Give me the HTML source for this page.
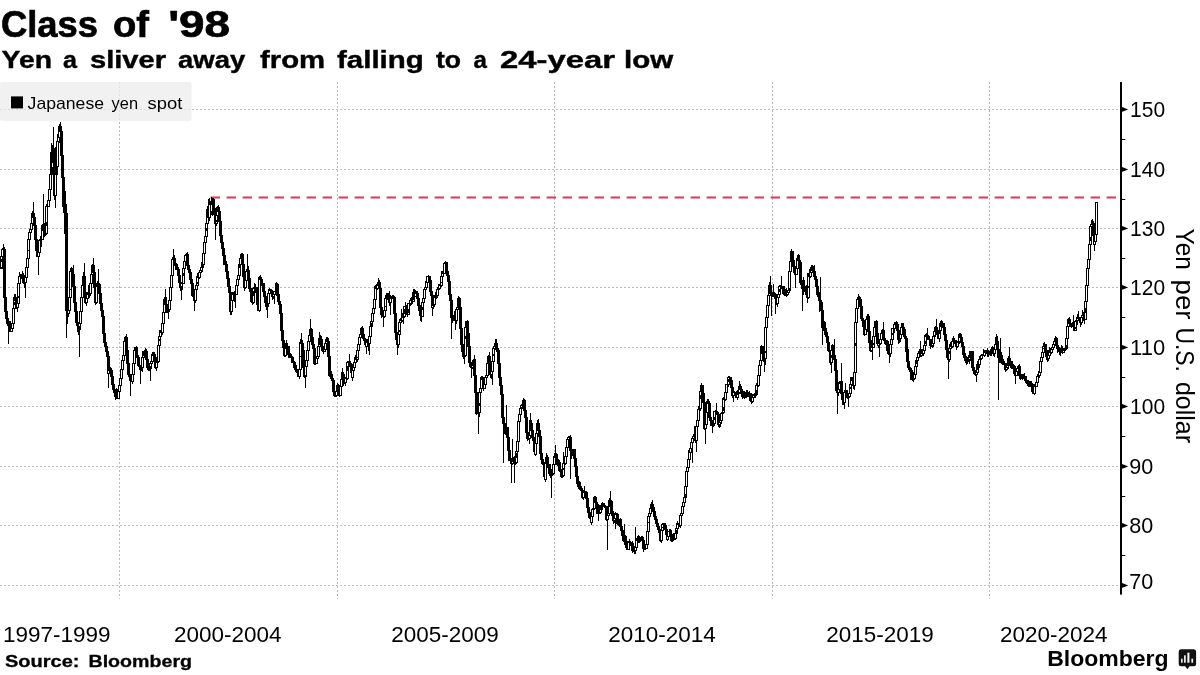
<!DOCTYPE html>
<html><head><meta charset="utf-8"><title>Class of '98</title>
<style>
html,body{margin:0;padding:0;background:#fff;}
body{width:1200px;height:675px;overflow:hidden;}
svg{display:block;font-family:"Liberation Sans",sans-serif;will-change:transform;}
text{fill:#000;}
</style></head><body>
<svg width="1200" height="675" viewBox="0 0 1200 675">
<text x="1" y="37.4" font-size="37.5" font-weight="bold" text-anchor="start" textLength="97" lengthAdjust="spacingAndGlyphs" stroke="#000" stroke-width="0.7">Class</text><text x="113" y="37.4" font-size="37.5" font-weight="bold" text-anchor="start" textLength="36" lengthAdjust="spacingAndGlyphs" stroke="#000" stroke-width="0.7">of</text><text x="168.2" y="37.4" font-size="37.5" font-weight="bold" text-anchor="start" textLength="61.8" lengthAdjust="spacingAndGlyphs" stroke="#000" stroke-width="0.7">&#39;98</text>
<text x="1.6" y="68" font-size="24.5" font-weight="bold" text-anchor="start" textLength="50.4" lengthAdjust="spacingAndGlyphs" stroke="#000" stroke-width="0.4">Yen</text><text x="63" y="68" font-size="24.5" font-weight="bold" text-anchor="start" textLength="14" lengthAdjust="spacingAndGlyphs" stroke="#000" stroke-width="0.4">a</text><text x="90" y="68" font-size="24.5" font-weight="bold" text-anchor="start" textLength="76" lengthAdjust="spacingAndGlyphs" stroke="#000" stroke-width="0.4">sliver</text><text x="178" y="68" font-size="24.5" font-weight="bold" text-anchor="start" textLength="67.2" lengthAdjust="spacingAndGlyphs" stroke="#000" stroke-width="0.4">away</text><text x="260" y="68" font-size="24.5" font-weight="bold" text-anchor="start" textLength="65.2" lengthAdjust="spacingAndGlyphs" stroke="#000" stroke-width="0.4">from</text><text x="337" y="68" font-size="24.5" font-weight="bold" text-anchor="start" textLength="86.8" lengthAdjust="spacingAndGlyphs" stroke="#000" stroke-width="0.4">falling</text><text x="436" y="68" font-size="24.5" font-weight="bold" text-anchor="start" textLength="25" lengthAdjust="spacingAndGlyphs" stroke="#000" stroke-width="0.4">to</text><text x="473.6" y="68" font-size="24.5" font-weight="bold" text-anchor="start" textLength="13.4" lengthAdjust="spacingAndGlyphs" stroke="#000" stroke-width="0.4">a</text><text x="500" y="68" font-size="24.5" font-weight="bold" text-anchor="start" textLength="115" lengthAdjust="spacingAndGlyphs" stroke="#000" stroke-width="0.4">24-year</text><text x="624" y="68" font-size="24.5" font-weight="bold" text-anchor="start" textLength="49.2" lengthAdjust="spacingAndGlyphs" stroke="#000" stroke-width="0.4">low</text>
<g stroke="#bababa" stroke-width="1" stroke-dasharray="2 2" fill="none" shape-rendering="crispEdges"><line x1="0" x2="1120" y1="585.5" y2="585.5"/><line x1="0" x2="1120" y1="525.5" y2="525.5"/><line x1="0" x2="1120" y1="466.5" y2="466.5"/><line x1="0" x2="1120" y1="406.5" y2="406.5"/><line x1="0" x2="1120" y1="347.5" y2="347.5"/><line x1="0" x2="1120" y1="287.5" y2="287.5"/><line x1="0" x2="1120" y1="228.5" y2="228.5"/><line x1="0" x2="1120" y1="169.5" y2="169.5"/><line x1="0" x2="1120" y1="109.5" y2="109.5"/><line x1="119.5" x2="119.5" y1="82" y2="598.5"/><line x1="337.5" x2="337.5" y1="82" y2="598.5"/><line x1="554.5" x2="554.5" y1="82" y2="598.5"/><line x1="772.5" x2="772.5" y1="82" y2="598.5"/><line x1="989.5" x2="989.5" y1="82" y2="598.5"/></g>
<rect x="0" y="82" width="191.6" height="39" fill="#ebebeb" fill-opacity="0.72" rx="2"/>
<rect x="11" y="96.4" width="12" height="12" fill="#000"/>
<text x="27.6" y="109" font-size="16.6" font-weight="normal" text-anchor="start" textLength="76.4" lengthAdjust="spacingAndGlyphs">Japanese</text><text x="111.6" y="109" font-size="16.6" font-weight="normal" text-anchor="start" textLength="26.4" lengthAdjust="spacingAndGlyphs">yen</text><text x="147.6" y="109" font-size="16.6" font-weight="normal" text-anchor="start" textLength="34.8" lengthAdjust="spacingAndGlyphs">spot</text>
<line x1="210.6" x2="1120" y1="197.5" y2="197.5" stroke="#cf3f5a" stroke-width="2" stroke-dasharray="9.4 6.6"/>
<path d="M1.5,257V259M1.5,262V267M2.5,250V256M11.5,329V331M12.5,324V328M13.5,309V323M14.5,301V302M14.5,305V308M17.5,304V307M18.5,284V296M18.5,298V303M19.5,277V283M25.5,278V282M26.5,268V277M27.5,259V267M28.5,240V250M28.5,251V258M29.5,233V239M30.5,230V232M31.5,224V229M32.5,218V223M38.5,253V256M39.5,241V252M42.5,231V239M46.5,207V222M46.5,226V233M48.5,201V206M49.5,190V200M50.5,175V189M52.5,163V167M55.5,175V195M57.5,142V166M58.5,138V141M59.5,132V137M68.5,311V313M69.5,298V310M70.5,272V289M70.5,290V297M79.5,324V326M80.5,312V323M81.5,298V311M82.5,286V297M86.5,299V302M87.5,295V298M90.5,284V293M91.5,275V283M92.5,273V274M96.5,287V302M108.5,371V373M118.5,392V398M119.5,386V391M120.5,379V385M121.5,370V378M122.5,361V369M123.5,356V360M124.5,342V355M132.5,375V381M133.5,364V374M134.5,351V363M142.5,358V367M143.5,356V357M150.5,364V366M151.5,362V363M152.5,356V361M156.5,363V367M158.5,346V361M159.5,337V339M159.5,341V345M160.5,333V336M162.5,324V332M163.5,313V323M164.5,305V312M169.5,301V309M170.5,288V300M171.5,276V287M172.5,260V275M181.5,284V286M183.5,269V273M183.5,276V283M184.5,262V268M185.5,256V261M195.5,290V300M196.5,286V289M197.5,278V282M197.5,284V285M199.5,273V277M200.5,271V272M201.5,268V270M203.5,254V264M204.5,243V253M205.5,237V242M206.5,224V228M206.5,231V236M207.5,218V223M209.5,205V217M211.5,205V211M216.5,216V220M216.5,222V223M217.5,212V215M231.5,301V311M232.5,295V300M236.5,286V294M237.5,280V285M238.5,276V279M239.5,268V275M240.5,259V264M245.5,281V287M246.5,272V280M253.5,289V291M253.5,296V302M259.5,280V310M268.5,294V303M269.5,291V293M273.5,295V296M274.5,292V294M285.5,349V355M299.5,370V376M300.5,344V356M300.5,357V369M305.5,367V375M306.5,361V366M307.5,351V360M308.5,342V350M309.5,336V341M316.5,359V363M317.5,357V358M318.5,347V356M319.5,345V346M324.5,350V351M325.5,344V349M326.5,342V343M336.5,392V395M340.5,387V395M341.5,380V386M345.5,379V382M347.5,363V366M347.5,371V378M352.5,371V377M353.5,368V370M354.5,363V367M355.5,360V362M357.5,351V357M357.5,358V359M358.5,345V350M359.5,338V344M360.5,335V337M366.5,343V346M369.5,337V343M370.5,327V336M371.5,322V323M372.5,314V321M373.5,309V313M374.5,300V308M375.5,289V299M377.5,286V288M384.5,311V316M385.5,299V306M385.5,307V310M390.5,299V302M398.5,335V344M399.5,323V330M399.5,332V334M400.5,321V322M402.5,318V320M404.5,307V309M404.5,314V316M408.5,304V309M408.5,313V314M410.5,301V303M413.5,300V301M415.5,294V296M422.5,303V307M422.5,310V316M423.5,299V302M424.5,290V298M425.5,288V289M426.5,283V287M427.5,277V282M432.5,306V307M434.5,298V304M437.5,290V295M439.5,286V288M441.5,277V282M441.5,283V285M442.5,274V276M444.5,264V273M456.5,310V320M457.5,308V309M465.5,328V336M465.5,339V355M472.5,366V367M479.5,393V403M479.5,406V412M480.5,389V392M481.5,380V388M484.5,385V388M485.5,378V384M486.5,376V377M487.5,364V375M491.5,372V374M492.5,362V371M493.5,349V354M493.5,356V361M494.5,347V348M512.5,462V463M516.5,452V453M516.5,458V462M517.5,442V451M518.5,422V441M519.5,415V421M520.5,409V414M521.5,406V407M529.5,436V438M530.5,431V435M535.5,444V454M536.5,434V443M537.5,431V433M545.5,464V479M553.5,465V473M554.5,458V464M563.5,464V468M563.5,470V475M565.5,457V463M566.5,448V456M567.5,440V447M568.5,438V439M583.5,493V497M591.5,517V522M592.5,510V516M594.5,503V508M600.5,510V512M607.5,516V519M608.5,514V515M609.5,507V513M614.5,519V520M615.5,515V518M628.5,543V549M635.5,548V550M636.5,541V547M646.5,545V548M647.5,532V544M648.5,517V522M648.5,523V531M649.5,514V516M650.5,509V513M661.5,531V540M662.5,525V527M662.5,528V530M667.5,537V539M668.5,532V536M675.5,534V538M676.5,529V530M677.5,525V528M680.5,516V525M681.5,514V515M682.5,507V513M683.5,503V506M684.5,498V502M685.5,487V494M686.5,472V486M687.5,468V471M688.5,460V467M689.5,453V459M690.5,449V452M691.5,443V448M692.5,439V442M693.5,437V438M696.5,427V440M697.5,421V426M698.5,410V420M700.5,392V395M700.5,399V408M705.5,425V428M706.5,413V424M707.5,404V412M714.5,412V417M714.5,420V423M719.5,423V424M720.5,421V422M721.5,414V420M723.5,400V407M723.5,411V412M725.5,393V399M726.5,385V392M728.5,378V379M728.5,382V384M733.5,393V395M737.5,395V397M739.5,390V392M752.5,398V401M753.5,396V397M756.5,386V390M758.5,376V385M759.5,366V375M760.5,361V365M761.5,354V360M765.5,328V351M765.5,353V358M766.5,318V327M767.5,306V317M768.5,296V305M769.5,294V295M777.5,298V303M778.5,295V297M779.5,287V289M779.5,292V294M787.5,293V294M788.5,291V292M789.5,272V288M790.5,262V271M796.5,269V274M797.5,261V268M808.5,277V286M808.5,288V297M810.5,273V276M811.5,271V272M831.5,351V355M831.5,358V362M838.5,390V392M839.5,384V389M844.5,393V402M849.5,394V396M850.5,385V387M850.5,389V393M851.5,381V384M854.5,373V385M855.5,323V343M855.5,346V372M856.5,309V322M857.5,300V308M865.5,330V334M866.5,320V329M871.5,348V350M873.5,337V343M873.5,345V347M874.5,328V336M878.5,344V345M880.5,340V343M881.5,334V339M890.5,345V353M891.5,340V344M892.5,329V333M892.5,335V339M894.5,325V328M900.5,335V338M901.5,328V334M914.5,375V378M915.5,367V374M916.5,364V366M917.5,358V360M918.5,354V357M921.5,354V355M923.5,351V353M924.5,346V350M925.5,337V341M925.5,344V345M932.5,344V345M933.5,337V343M934.5,332V335M939.5,334V338M940.5,327V330M949.5,349V351M949.5,354V359M950.5,347V348M952.5,342V346M957.5,343V346M959.5,338V341M969.5,358V359M976.5,373V374M977.5,370V372M979.5,360V364M981.5,356V358M984.5,353V355M994.5,350V353M995.5,345V349M1006.5,368V369M1007.5,366V367M1016.5,372V375M1017.5,369V371M1034.5,387V393M1036.5,383V386M1037.5,377V382M1039.5,373V375M1040.5,362V372M1041.5,358V361M1042.5,353V357M1043.5,347V348M1043.5,349V352M1048.5,356V358M1049.5,353V355M1051.5,350V352M1052.5,348V349M1053.5,345V347M1054.5,342V344M1063.5,351V352M1066.5,339V345M1067.5,327V338M1068.5,324V326M1075.5,322V327M1075.5,329V330M1077.5,319V320M1081.5,318V322M1082.5,316V317M1085.5,302V308M1085.5,313V319M1086.5,286V301M1087.5,269V285M1088.5,260V268M1089.5,245V259M1090.5,227V237M1090.5,241V244M1091.5,225V226M1094.5,242V244M1095.5,235V241M1096.5,203V234" fill="none" stroke="#fff" stroke-width="1" shape-rendering="crispEdges"/>
<path d="M0.5,256V269M1.5,249V257M1.5,259V262M1.5,267V269M2.5,248V250M2.5,256V269M3.5,244V298M4.5,247V312M5.5,249V319M6.5,297V324M7.5,311V326M8.5,318V344M9.5,321V332M10.5,321V332M11.5,323V329M11.5,331V332M12.5,308V324M12.5,328V332M13.5,297V309M13.5,323V329M14.5,294V301M14.5,302V305M14.5,308V324M15.5,294V309M16.5,297V309M17.5,283V304M17.5,307V312M18.5,276V284M18.5,296V298M18.5,303V308M19.5,272V277M19.5,283V304M20.5,274V284M21.5,274V279M22.5,271V283M23.5,273V284M24.5,275V288M25.5,267V278M25.5,282V298M26.5,258V268M26.5,277V283M27.5,239V259M27.5,267V278M28.5,232V240M28.5,250V251M28.5,258V268M29.5,229V233M29.5,239V259M30.5,223V230M30.5,232V240M31.5,213V224M31.5,229V233M32.5,211V218M32.5,223V230M33.5,202V226M34.5,213V240M35.5,217V251M36.5,225V257M37.5,239V257M38.5,240V253M38.5,256V275M39.5,239V241M39.5,252V257M40.5,236V253M41.5,225V247M42.5,224V231M42.5,239V240M43.5,194V240M44.5,223V237M45.5,206V236M46.5,204V207M46.5,222V226M46.5,233V235M47.5,200V234M48.5,189V201M48.5,206V207M49.5,174V190M49.5,200V207M50.5,152V175M50.5,189V201M51.5,143V190M52.5,145V163M52.5,167V175M53.5,127V196M54.5,148V200M55.5,147V175M55.5,195V208M56.5,141V196M57.5,134V142M57.5,166V175M58.5,126V138M58.5,141V167M59.5,124V132M59.5,137V143M60.5,122V156M61.5,126V178M62.5,131V207M63.5,155V213M64.5,177V234M65.5,191V311M66.5,204V338M67.5,213V324M68.5,297V311M68.5,313V317M69.5,271V298M69.5,310V314M70.5,268V272M70.5,289V290M70.5,297V311M71.5,267V298M72.5,268V287M73.5,265V303M74.5,274V312M75.5,286V323M76.5,302V326M77.5,311V332M78.5,322V335M79.5,311V324M79.5,326V357M80.5,297V312M80.5,323V330M81.5,285V298M81.5,311V324M82.5,276V286M82.5,297V312M83.5,272V298M84.5,263V303M85.5,276V304M86.5,292V299M86.5,302V306M87.5,292V295M87.5,298V303M88.5,285V299M89.5,283V298M90.5,274V284M90.5,293V296M91.5,265V275M91.5,283V294M92.5,264V273M92.5,274V284M93.5,258V288M94.5,265V303M95.5,272V305M96.5,283V287M96.5,302V304M97.5,281V303M98.5,269V294M99.5,283V304M100.5,284V311M101.5,293V317M102.5,303V334M103.5,310V343M104.5,316V347M105.5,333V352M106.5,342V357M107.5,346V374M108.5,351V371M108.5,373V388M109.5,356V374M110.5,367V377M111.5,368V385M112.5,370V390M113.5,376V393M114.5,384V397M115.5,389V400M116.5,388V399M117.5,389V399M118.5,385V392M118.5,398V399M119.5,378V386M119.5,391V399M120.5,369V379M120.5,385V392M121.5,360V370M121.5,378V386M122.5,355V361M122.5,369V379M123.5,341V356M123.5,360V370M124.5,337V342M124.5,355V361M125.5,336V356M126.5,334V364M127.5,337V375M128.5,350V377M129.5,363V381M130.5,374V396M131.5,374V382M132.5,363V375M132.5,381V384M133.5,350V364M133.5,374V382M134.5,347V351M134.5,363V375M135.5,347V364M136.5,346V358M137.5,347V366M138.5,355V367M139.5,357V370M140.5,365V384M141.5,357V371M142.5,351V358M142.5,367V372M143.5,351V356M143.5,357V368M144.5,350V358M145.5,348V360M146.5,349V368M147.5,351V370M148.5,359V371M149.5,363V371M150.5,361V364M150.5,366V381M151.5,354V362M151.5,363V369M152.5,352V356M152.5,361V364M153.5,352V362M154.5,352V368M155.5,354V369M156.5,357V363M156.5,367V371M157.5,345V368M158.5,336V346M158.5,361V363M159.5,330V337M159.5,339V341M159.5,345V362M160.5,330V333M160.5,336V346M161.5,323V337M162.5,312V324M162.5,332V335M163.5,299V313M163.5,323V333M164.5,297V305M164.5,312V324M165.5,289V313M166.5,297V313M167.5,304V313M168.5,300V319M169.5,287V301M169.5,309V312M170.5,275V288M170.5,300V310M171.5,259V276M171.5,287V301M172.5,257V260M172.5,275V288M173.5,249V276M174.5,255V266M175.5,258V270M176.5,263V270M177.5,264V276M178.5,267V283M179.5,269V288M180.5,275V291M181.5,282V284M181.5,286V300M182.5,268V290M183.5,261V269M183.5,273V276M183.5,283V284M184.5,255V262M184.5,268V284M185.5,254V256M185.5,261V269M186.5,253V266M187.5,252V270M188.5,254V273M189.5,265V280M190.5,269V284M191.5,272V296M192.5,279V297M193.5,283V301M194.5,289V311M195.5,285V290M195.5,300V303M196.5,276V286M196.5,289V301M197.5,273V278M197.5,282V284M197.5,285V290M198.5,272V286M199.5,270V273M199.5,277V279M200.5,267V271M200.5,272V278M201.5,262V268M201.5,270V273M202.5,253V272M203.5,242V254M203.5,264V268M204.5,236V243M204.5,253V265M205.5,223V237M205.5,242V254M206.5,209V224M206.5,228V231M206.5,236V243M207.5,206V218M207.5,223V237M208.5,199V224M209.5,198V205M209.5,217V221M210.5,201V218M211.5,197V205M211.5,211V215M212.5,198V216M213.5,198V215M214.5,199V224M215.5,208V240M216.5,207V216M216.5,220V222M216.5,223V226M217.5,206V212M217.5,215V224M218.5,205V222M219.5,207V236M220.5,211V243M221.5,221V249M222.5,235V256M223.5,242V265M224.5,248V265M225.5,255V272M226.5,261V279M227.5,264V287M228.5,271V293M229.5,278V312M230.5,286V315M231.5,292V301M231.5,311V315M232.5,292V295M232.5,300V312M233.5,292V301M234.5,291V302M235.5,285V308M236.5,279V286M236.5,294V295M237.5,275V280M237.5,285V295M238.5,264V276M238.5,279V286M239.5,258V268M239.5,275V280M240.5,254V259M240.5,264V276M241.5,253V265M242.5,253V277M243.5,254V288M244.5,264V291M245.5,271V281M245.5,287V289M246.5,269V272M246.5,280V288M247.5,254V281M248.5,266V289M249.5,270V292M250.5,278V302M251.5,288V303M252.5,288V305M253.5,287V289M253.5,291V296M253.5,302V304M254.5,283V303M255.5,284V293M256.5,287V305M257.5,287V311M258.5,277V311M259.5,276V280M259.5,310V312M260.5,275V311M261.5,277V286M262.5,279V292M263.5,283V297M264.5,283V303M265.5,291V307M266.5,296V310M267.5,293V318M268.5,289V294M268.5,303V307M269.5,288V291M269.5,293V304M270.5,289V294M271.5,289V297M272.5,290V300M273.5,291V295M273.5,296V299M274.5,291V292M274.5,294V304M275.5,283V295M276.5,282V296M277.5,283V302M278.5,284V305M279.5,294V314M280.5,301V331M281.5,304V341M282.5,313V348M283.5,330V356M284.5,340V357M285.5,343V349M285.5,355V357M286.5,340V356M287.5,343V355M288.5,346V358M289.5,346V358M290.5,353V358M291.5,354V363M292.5,356V363M293.5,357V368M294.5,361V370M295.5,362V372M296.5,365V373M297.5,369V377M298.5,369V377M299.5,342V370M299.5,376V379M300.5,339V344M300.5,356V357M300.5,369V377M301.5,333V370M302.5,340V368M303.5,343V377M304.5,350V378M305.5,360V367M305.5,375V388M306.5,350V361M306.5,366V377M307.5,341V351M307.5,360V367M308.5,335V342M308.5,350V361M309.5,329V336M309.5,341V351M310.5,319V342M311.5,328V345M312.5,329V349M313.5,337V364M314.5,344V365M315.5,348V365M316.5,356V359M316.5,363V364M317.5,346V357M317.5,358V364M318.5,338V347M318.5,356V359M319.5,332V345M319.5,346V357M320.5,335V347M321.5,336V351M322.5,339V352M323.5,346V354M324.5,343V350M324.5,351V352M325.5,339V344M325.5,349V352M326.5,337V342M326.5,343V350M327.5,337V357M328.5,338V376M329.5,341V377M330.5,356V379M331.5,371V381M332.5,374V392M333.5,378V396M334.5,380V397M335.5,391V397M336.5,385V392M336.5,395V397M337.5,383V396M338.5,384V396M339.5,385V397M340.5,379V387M340.5,395V396M341.5,372V380M341.5,386V396M342.5,368V387M343.5,372V386M344.5,374V384M345.5,377V379M345.5,382V386M346.5,362V383M347.5,361V363M347.5,366V371M347.5,378V380M348.5,361V379M349.5,354V367M350.5,361V373M351.5,363V378M352.5,364V371M352.5,377V381M353.5,362V368M353.5,370V378M354.5,357V363M354.5,367V371M355.5,355V360M355.5,362V368M356.5,350V363M357.5,344V351M357.5,357V358M357.5,359V362M358.5,337V345M358.5,350V360M359.5,334V338M359.5,344V351M360.5,328V335M360.5,337V345M361.5,327V338M362.5,326V339M363.5,328V341M364.5,334V345M365.5,338V347M366.5,339V343M366.5,346V354M367.5,339V347M368.5,336V351M369.5,326V337M369.5,343V355M370.5,321V327M370.5,336V344M371.5,313V322M371.5,323V337M372.5,308V314M372.5,321V327M373.5,299V309M373.5,313V322M374.5,286V300M374.5,308V314M375.5,285V289M375.5,299V309M376.5,284V300M377.5,282V286M377.5,288V290M378.5,278V289M379.5,280V308M380.5,282V315M381.5,288V318M382.5,307V317M383.5,310V327M384.5,298V311M384.5,316V318M385.5,295V299M385.5,306V307M385.5,310V317M386.5,293V311M387.5,293V300M388.5,293V303M389.5,291V306M390.5,295V299M390.5,302V315M391.5,296V303M392.5,295V299M393.5,295V314M394.5,296V333M395.5,297V340M396.5,313V345M397.5,332V355M398.5,322V335M398.5,344V348M399.5,319V323M399.5,330V332M399.5,334V345M400.5,318V321M400.5,322V335M401.5,309V323M402.5,313V318M402.5,320V322M403.5,306V324M404.5,306V307M404.5,309V314M404.5,316V318M405.5,302V317M406.5,305V315M407.5,303V317M408.5,303V304M408.5,309V313M408.5,314V315M409.5,300V315M410.5,298V301M410.5,303V306M411.5,297V305M412.5,292V304M413.5,289V300M413.5,301V302M414.5,289V302M415.5,290V294M415.5,296V297M416.5,291V299M417.5,291V306M418.5,293V311M419.5,298V316M420.5,305V321M421.5,302V322M422.5,298V303M422.5,307V310M422.5,316V317M423.5,289V299M423.5,302V317M424.5,287V290M424.5,298V303M425.5,281V288M425.5,289V299M426.5,276V283M426.5,287V290M427.5,276V277M427.5,282V288M428.5,275V283M429.5,276V292M430.5,276V296M431.5,280V308M432.5,291V306M432.5,307V316M433.5,295V309M434.5,295V298M434.5,304V307M435.5,292V305M436.5,289V299M437.5,287V290M437.5,295V298M438.5,284V296M439.5,284V286M439.5,288V290M440.5,276V289M441.5,271V277M441.5,282V283M441.5,285V287M442.5,271V274M442.5,276V286M443.5,263V277M444.5,262V264M444.5,273V274M445.5,261V274M446.5,262V276M447.5,262V282M448.5,271V295M449.5,275V301M450.5,281V318M451.5,294V339M452.5,300V323M453.5,315V321M454.5,311V321M455.5,309V330M456.5,307V310M456.5,320V324M457.5,298V308M457.5,309V321M458.5,296V310M459.5,297V329M460.5,298V345M461.5,307V352M462.5,328V357M463.5,344V359M464.5,327V364M465.5,321V328M465.5,336V339M465.5,355V357M466.5,321V356M467.5,320V347M468.5,321V363M469.5,333V367M470.5,346V368M471.5,362V378M472.5,360V366M472.5,367V369M473.5,359V376M474.5,355V393M475.5,359V414M476.5,375V415M477.5,392V414M478.5,392V434M479.5,388V393M479.5,403V406M479.5,412V417M480.5,377V389M480.5,392V413M481.5,376V380M481.5,388V393M482.5,376V389M483.5,377V391M484.5,377V385M484.5,388V389M485.5,375V378M485.5,384V389M486.5,363V376M486.5,377V385M487.5,356V364M487.5,375V378M488.5,355V376M489.5,352V375M490.5,356V378M491.5,361V372M491.5,374V379M492.5,348V362M492.5,371V385M493.5,346V349M493.5,354V356M493.5,361V372M494.5,343V347M494.5,348V362M495.5,339V350M496.5,339V352M497.5,343V364M498.5,348V378M499.5,350V386M500.5,363V395M501.5,377V418M502.5,385V424M503.5,394V463M504.5,417V434M505.5,423V435M506.5,405V438M507.5,427V451M508.5,427V461M509.5,437V461M510.5,450V464M511.5,458V483M512.5,439V462M512.5,463V465M513.5,457V464M514.5,456V483M515.5,451V465M516.5,441V452M516.5,453V458M516.5,462V464M517.5,421V442M517.5,451V463M518.5,414V422M518.5,441V452M519.5,408V415M519.5,421V442M520.5,405V409M520.5,414V422M521.5,404V406M521.5,407V415M522.5,400V409M523.5,398V411M524.5,399V418M525.5,400V433M526.5,410V439M527.5,417V441M528.5,432V440M529.5,420V436M529.5,438V444M530.5,413V431M530.5,435V439M531.5,420V438M532.5,423V441M533.5,430V452M534.5,437V455M535.5,433V444M535.5,454V456M536.5,423V434M536.5,443V455M537.5,420V431M537.5,433V444M538.5,419V437M539.5,423V454M540.5,430V460M541.5,436V464M542.5,453V465M543.5,459V477M544.5,462V480M545.5,457V464M545.5,479V482M546.5,453V480M547.5,455V468M548.5,457V474M549.5,464V476M550.5,464V478M551.5,469V498M552.5,464V476M553.5,456V465M553.5,473V475M554.5,453V458M554.5,464V474M555.5,445V465M556.5,453V465M557.5,454V466M558.5,459V471M559.5,460V472M560.5,462V477M561.5,469V478M562.5,463V478M563.5,452V464M563.5,468V470M563.5,475V477M564.5,456V476M565.5,447V457M565.5,463V465M566.5,439V448M566.5,456V464M567.5,437V440M567.5,447V457M568.5,436V438M568.5,439V448M569.5,436V451M570.5,435V479M571.5,437V459M572.5,449V456M573.5,449V459M574.5,449V467M575.5,449V477M576.5,458V484M577.5,466V487M578.5,476V489M579.5,481V490M580.5,482V491M581.5,486V498M582.5,488V499M583.5,490V493M583.5,497V500M584.5,486V498M585.5,491V499M586.5,491V508M587.5,492V513M588.5,498V518M589.5,507V519M590.5,512V523M591.5,509V517M591.5,522V525M592.5,508V510M592.5,516V523M593.5,497V517M594.5,496V503M594.5,508V510M595.5,496V509M596.5,497V514M597.5,502V514M598.5,504V521M599.5,505V514M600.5,505V510M600.5,512V514M601.5,503V513M602.5,502V510M603.5,503V507M604.5,503V508M605.5,505V520M606.5,506V521M607.5,506V516M607.5,519V550M608.5,500V514M608.5,515V520M609.5,498V507M609.5,513V516M610.5,491V514M611.5,500V516M612.5,501V521M613.5,511V524M614.5,513V519M614.5,520V523M615.5,512V515M615.5,518V529M616.5,513V524M617.5,513V525M618.5,514V526M619.5,519V527M620.5,518V531M621.5,519V536M622.5,526V541M623.5,530V542M624.5,524V545M625.5,535V548M626.5,536V550M627.5,541V550M628.5,541V543M628.5,549V550M629.5,539V550M630.5,541V546M631.5,542V551M632.5,541V553M633.5,543V552M634.5,546V554M635.5,527V548M635.5,550V554M636.5,538V541M636.5,547V551M637.5,536V548M638.5,535V543M639.5,536V543M640.5,537V542M641.5,536V541M642.5,536V549M643.5,537V552M644.5,540V550M645.5,544V550M646.5,531V545M646.5,548V549M647.5,516V532M647.5,544V549M648.5,513V517M648.5,522V523M648.5,531V545M649.5,508V514M649.5,516V532M650.5,504V509M650.5,513V517M651.5,502V514M652.5,500V512M653.5,504V517M654.5,507V520M655.5,511V524M656.5,516V527M657.5,519V530M658.5,523V533M659.5,526V541M660.5,529V542M661.5,524V531M661.5,540V543M662.5,523V525M662.5,527V528M662.5,530V541M663.5,523V531M664.5,523V530M665.5,523V535M666.5,525V540M667.5,529V537M667.5,539V541M668.5,531V532M668.5,536V540M669.5,529V537M670.5,529V541M671.5,530V542M672.5,534V542M673.5,533V541M674.5,533V540M675.5,528V534M675.5,538V540M676.5,523V529M676.5,530V539M677.5,521V525M677.5,528V534M678.5,523V529M679.5,515V527M680.5,513V516M680.5,525V528M681.5,506V514M681.5,515V526M682.5,502V507M682.5,513V516M683.5,497V503M683.5,506V514M684.5,486V498M684.5,502V507M685.5,471V487M685.5,494V503M686.5,467V472M686.5,486V498M687.5,459V468M687.5,471V487M688.5,450V460M688.5,467V472M689.5,448V453M689.5,459V468M690.5,442V449M690.5,452V460M691.5,438V443M691.5,448V453M692.5,436V439M692.5,442V463M693.5,434V437M693.5,438V443M694.5,426V441M695.5,426V443M696.5,420V427M696.5,440V452M697.5,409V421M697.5,426V441M698.5,406V410M698.5,420V427M699.5,391V421M700.5,385V392M700.5,395V399M700.5,408V411M701.5,383V409M702.5,385V403M703.5,385V429M704.5,393V430M705.5,402V425M705.5,428V444M706.5,401V413M706.5,424V429M707.5,399V404M707.5,412V425M708.5,399V418M709.5,401V421M710.5,403V426M711.5,417V426M712.5,420V433M713.5,411V427M714.5,411V412M714.5,417V420M714.5,423V426M715.5,410V424M716.5,403V415M717.5,411V425M718.5,412V427M719.5,414V423M719.5,424V428M720.5,413V421M720.5,422V427M721.5,412V414M721.5,420V424M722.5,398V421M723.5,397V400M723.5,407V411M723.5,412V414M724.5,392V413M725.5,384V393M725.5,399V401M726.5,384V385M726.5,392V400M727.5,377V393M728.5,376V378M728.5,379V382M728.5,384V387M729.5,376V385M730.5,377V388M731.5,377V396M732.5,380V398M733.5,387V393M733.5,395V402M734.5,391V396M735.5,392V398M736.5,391V398M737.5,390V395M737.5,397V400M738.5,386V398M739.5,381V390M739.5,392V394M740.5,384V394M741.5,386V397M742.5,389V399M743.5,391V398M744.5,391V399M745.5,392V398M746.5,390V398M747.5,390V397M748.5,392V397M749.5,391V401M750.5,393V402M751.5,393V404M752.5,394V398M752.5,401V403M753.5,394V396M753.5,397V402M754.5,393V398M755.5,385V398M756.5,383V386M756.5,390V396M757.5,375V395M758.5,365V376M758.5,385V387M759.5,360V366M759.5,375V386M760.5,346V361M760.5,365V376M761.5,345V354M761.5,360V366M762.5,346V361M763.5,346V362M764.5,327V372M765.5,317V328M765.5,351V353M765.5,358V365M766.5,305V318M766.5,327V359M767.5,295V306M767.5,317V328M768.5,285V296M768.5,305V318M769.5,282V294M769.5,295V306M770.5,276V296M771.5,285V316M772.5,292V297M773.5,284V297M774.5,292V299M775.5,293V314M776.5,294V305M777.5,294V298M777.5,303V307M778.5,286V295M778.5,297V304M779.5,285V287M779.5,289V292M779.5,294V298M780.5,285V295M781.5,276V289M782.5,286V294M783.5,286V295M784.5,286V296M785.5,289V296M786.5,288V297M787.5,290V293M787.5,294V296M788.5,271V291M788.5,292V295M789.5,261V272M789.5,288V293M790.5,251V262M790.5,271V291M791.5,249V272M792.5,251V267M793.5,251V273M794.5,260V275M795.5,266V288M796.5,258V269M796.5,274V275M797.5,255V261M797.5,268V275M798.5,254V269M799.5,255V283M800.5,260V285M801.5,262V289M802.5,280V311M803.5,277V295M804.5,280V292M805.5,286V295M806.5,285V298M807.5,273V303M808.5,273V277M808.5,286V288M808.5,297V299M809.5,269V298M810.5,267V273M810.5,276V278M811.5,265V271M811.5,272V277M812.5,265V273M813.5,266V277M814.5,265V280M815.5,271V287M816.5,276V295M817.5,279V297M818.5,286V301M819.5,292V312M820.5,277V311M821.5,300V328M822.5,302V345M823.5,310V331M824.5,321V335M825.5,322V337M826.5,328V343M827.5,332V351M828.5,336V352M829.5,342V363M830.5,350V365M831.5,345V351M831.5,355V358M831.5,362V373M832.5,344V363M833.5,345V360M834.5,339V371M835.5,355V391M836.5,359V393M837.5,370V414M838.5,382V390M838.5,392V396M839.5,381V384M839.5,389V393M840.5,381V394M841.5,363V400M842.5,381V405M843.5,392V405M844.5,390V393M844.5,402V409M845.5,383V403M846.5,390V398M847.5,390V399M848.5,393V407M849.5,384V394M849.5,396V398M850.5,377V385M850.5,387V389M850.5,393V397M851.5,377V381M851.5,384V394M852.5,377V386M853.5,372V389M854.5,322V373M854.5,385V390M855.5,308V323M855.5,343V346M855.5,372V386M856.5,299V309M856.5,322V373M857.5,297V300M857.5,308V323M858.5,294V309M859.5,296V307M860.5,297V319M861.5,299V321M862.5,306V327M863.5,318V335M864.5,320V336M865.5,319V330M865.5,334V335M866.5,316V320M866.5,329V335M867.5,314V332M868.5,314V343M869.5,316V351M870.5,331V352M871.5,340V348M871.5,350V352M872.5,336V360M873.5,327V337M873.5,343V345M873.5,347V348M874.5,321V328M874.5,336V348M875.5,321V337M876.5,320V344M877.5,321V346M878.5,333V344M878.5,345V348M879.5,339V357M880.5,333V340M880.5,343V345M881.5,330V334M881.5,339V344M882.5,329V340M883.5,322V341M884.5,330V344M885.5,338V345M886.5,340V351M887.5,340V354M888.5,341V355M889.5,344V363M890.5,339V345M890.5,353V357M891.5,328V340M891.5,344V354M892.5,328V329M892.5,333V335M892.5,339V345M893.5,324V340M894.5,322V325M894.5,328V333M895.5,322V329M896.5,321V331M897.5,322V340M898.5,324V344M899.5,330V343M900.5,327V335M900.5,338V342M901.5,323V328M901.5,334V339M902.5,323V335M903.5,323V337M904.5,327V339M905.5,329V352M906.5,336V362M907.5,338V368M908.5,349V370M909.5,361V372M910.5,367V380M911.5,368V380M912.5,370V381M913.5,372V382M914.5,366V375M914.5,378V380M915.5,360V367M915.5,374V379M916.5,357V364M916.5,366V375M917.5,353V358M917.5,360V367M918.5,351V354M918.5,357V361M919.5,349V358M920.5,341V357M921.5,349V354M921.5,355V357M922.5,349V356M923.5,345V351M923.5,353V356M924.5,335V346M924.5,350V354M925.5,334V337M925.5,341V344M925.5,345V351M926.5,333V346M927.5,328V340M928.5,335V340M929.5,336V346M930.5,339V349M931.5,339V347M932.5,336V344M932.5,345V348M933.5,331V337M933.5,343V347M934.5,327V332M934.5,335V344M935.5,326V337M936.5,319V335M937.5,327V339M938.5,330V339M939.5,323V334M939.5,338V342M940.5,321V327M940.5,330V339M941.5,320V331M942.5,321V328M943.5,323V335M944.5,323V341M945.5,327V350M946.5,334V358M947.5,340V360M948.5,348V379M949.5,344V349M949.5,351V354M949.5,359V362M950.5,342V347M950.5,348V360M951.5,341V349M952.5,338V342M952.5,346V348M953.5,336V347M954.5,338V344M955.5,340V347M956.5,340V350M957.5,341V343M957.5,346V348M958.5,334V347M959.5,333V338M959.5,341V344M960.5,333V343M961.5,334V347M962.5,337V355M963.5,342V358M964.5,346V361M965.5,353V363M966.5,356V365M967.5,357V364M968.5,355V362M969.5,351V358M969.5,359V364M970.5,351V361M971.5,351V368M972.5,351V371M973.5,351V374M974.5,367V375M975.5,370V376M976.5,364V373M976.5,374V382M977.5,361V370M977.5,372V375M978.5,359V373M979.5,356V360M979.5,364V368M980.5,355V365M981.5,354V356M981.5,358V360M982.5,354V359M983.5,349V356M984.5,350V353M984.5,355V357M985.5,350V356M986.5,350V354M987.5,348V357M988.5,350V357M989.5,351V355M990.5,349V356M991.5,347V356M992.5,346V354M993.5,347V356M994.5,344V350M994.5,353V357M995.5,337V345M995.5,349V354M996.5,334V350M997.5,336V358M998.5,341V400M999.5,349V363M1000.5,338V363M1001.5,352V364M1002.5,355V365M1003.5,359V365M1004.5,361V370M1005.5,363V372M1006.5,363V368M1006.5,369V371M1007.5,358V366M1007.5,367V370M1008.5,356V369M1009.5,347V366M1010.5,358V368M1011.5,361V369M1012.5,361V369M1013.5,364V374M1014.5,365V376M1015.5,366V384M1016.5,368V372M1016.5,375V376M1017.5,366V369M1017.5,371V376M1018.5,365V376M1019.5,364V379M1020.5,366V380M1021.5,374V379M1022.5,374V380M1023.5,374V379M1024.5,373V381M1025.5,376V383M1026.5,376V384M1027.5,380V386M1028.5,380V387M1029.5,381V387M1030.5,381V387M1031.5,381V392M1032.5,383V394M1033.5,384V394M1034.5,384V387M1034.5,393V395M1035.5,382V394M1036.5,376V383M1036.5,386V387M1037.5,374V377M1037.5,382V387M1038.5,371V383M1039.5,361V373M1039.5,375V378M1040.5,357V362M1040.5,372V376M1041.5,352V358M1041.5,361V373M1042.5,346V353M1042.5,357V362M1043.5,343V347M1043.5,348V349M1043.5,352V358M1044.5,342V353M1045.5,344V357M1046.5,344V360M1047.5,350V362M1048.5,350V356M1048.5,358V361M1049.5,347V353M1049.5,355V359M1050.5,348V356M1051.5,347V350M1051.5,352V354M1052.5,344V348M1052.5,349V353M1053.5,341V345M1053.5,347V350M1054.5,338V342M1054.5,344V348M1055.5,336V346M1056.5,337V349M1057.5,338V353M1058.5,345V352M1059.5,347V355M1060.5,348V356M1061.5,345V353M1062.5,346V354M1063.5,348V351M1063.5,352V353M1064.5,348V353M1065.5,338V351M1066.5,326V339M1066.5,345V350M1067.5,319V327M1067.5,338V349M1068.5,318V324M1068.5,326V339M1069.5,317V327M1070.5,319V327M1071.5,323V328M1072.5,322V327M1073.5,315V331M1074.5,321V331M1075.5,320V322M1075.5,327V329M1075.5,330V331M1076.5,317V331M1077.5,314V319M1077.5,320V325M1078.5,311V321M1079.5,317V323M1080.5,317V327M1081.5,315V318M1081.5,322V325M1082.5,310V316M1082.5,317V323M1083.5,312V321M1084.5,301V324M1085.5,285V302M1085.5,308V313M1085.5,319V320M1086.5,268V286M1086.5,301V320M1087.5,259V269M1087.5,285V302M1088.5,244V260M1088.5,268V286M1089.5,226V245M1089.5,259V269M1090.5,224V227M1090.5,237V241M1090.5,244V260M1091.5,220V225M1091.5,226V245M1092.5,219V236M1093.5,221V245M1094.5,223V242M1094.5,244V251M1095.5,202V235M1095.5,241V245M1096.5,202V203M1096.5,234V242M1097.5,202V235" fill="none" stroke="#000" stroke-width="1" shape-rendering="crispEdges"/>
<rect x="1120" y="82" width="2" height="512.6" fill="#000"/><path d="M1121.5,582.8 L1128.2,585.4 L1121.5,588.0Z" fill="#000"/><path d="M1121.5,522.8 L1128.2,525.4 L1121.5,528.0Z" fill="#000"/><path d="M1121.5,463.8 L1128.2,466.4 L1121.5,469.0Z" fill="#000"/><path d="M1121.5,403.8 L1128.2,406.4 L1121.5,409.0Z" fill="#000"/><path d="M1121.5,344.8 L1128.2,347.4 L1121.5,350.0Z" fill="#000"/><path d="M1121.5,284.8 L1128.2,287.4 L1121.5,290.0Z" fill="#000"/><path d="M1121.5,225.8 L1128.2,228.4 L1121.5,231.0Z" fill="#000"/><path d="M1121.5,166.8 L1128.2,169.4 L1121.5,172.0Z" fill="#000"/><path d="M1121.5,106.8 L1128.2,109.4 L1121.5,112.0Z" fill="#000"/><rect x="1121" y="555" width="4.3" height="1" fill="#000"/><rect x="1121" y="496" width="4.3" height="1" fill="#000"/><rect x="1121" y="436" width="4.3" height="1" fill="#000"/><rect x="1121" y="377" width="4.3" height="1" fill="#000"/><rect x="1121" y="317" width="4.3" height="1" fill="#000"/><rect x="1121" y="258" width="4.3" height="1" fill="#000"/><rect x="1121" y="199" width="4.3" height="1" fill="#000"/><rect x="1121" y="139" width="4.3" height="1" fill="#000"/>
<text x="1129.2" y="533.2" font-size="22.5" font-weight="normal" text-anchor="start" textLength="24" lengthAdjust="spacingAndGlyphs">80</text><text x="1129.2" y="474.2" font-size="22.5" font-weight="normal" text-anchor="start" textLength="24" lengthAdjust="spacingAndGlyphs">90</text><text x="1130.1" y="414.2" font-size="22.5" font-weight="normal" text-anchor="start" textLength="35" lengthAdjust="spacingAndGlyphs">100</text><text x="1130.1" y="355.2" font-size="22.5" font-weight="normal" text-anchor="start" textLength="35" lengthAdjust="spacingAndGlyphs">110</text><text x="1130.1" y="295.2" font-size="22.5" font-weight="normal" text-anchor="start" textLength="35" lengthAdjust="spacingAndGlyphs">120</text><text x="1130.1" y="236.2" font-size="22.5" font-weight="normal" text-anchor="start" textLength="35" lengthAdjust="spacingAndGlyphs">130</text><text x="1130.1" y="177.2" font-size="22.5" font-weight="normal" text-anchor="start" textLength="35" lengthAdjust="spacingAndGlyphs">140</text><text x="1130.1" y="117.2" font-size="22.5" font-weight="normal" text-anchor="start" textLength="35" lengthAdjust="spacingAndGlyphs">150</text><text x="1129.2" y="588.7" font-size="22.5" font-weight="normal" text-anchor="start" textLength="24" lengthAdjust="spacingAndGlyphs">70</text><text x="3" y="642" font-size="22.6" font-weight="normal" text-anchor="start" textLength="107.5" lengthAdjust="spacingAndGlyphs">1997-1999</text><text x="174" y="642" font-size="22.6" font-weight="normal" text-anchor="start" textLength="107.5" lengthAdjust="spacingAndGlyphs">2000-2004</text><text x="391.3" y="642" font-size="22.6" font-weight="normal" text-anchor="start" textLength="107.5" lengthAdjust="spacingAndGlyphs">2005-2009</text><text x="608.3" y="642" font-size="22.6" font-weight="normal" text-anchor="start" textLength="107.5" lengthAdjust="spacingAndGlyphs">2010-2014</text><text x="826.3" y="642" font-size="22.6" font-weight="normal" text-anchor="start" textLength="107.5" lengthAdjust="spacingAndGlyphs">2015-2019</text><text x="1000" y="642" font-size="22.6" font-weight="normal" text-anchor="start" textLength="107.5" lengthAdjust="spacingAndGlyphs">2020-2024</text>
<g transform="translate(1176.3,0) rotate(90)"><text x="228.6" y="0" font-size="25.5" font-weight="normal" text-anchor="start" textLength="41.2" lengthAdjust="spacingAndGlyphs">Yen</text><text x="279.6" y="0" font-size="25.5" font-weight="normal" text-anchor="start" textLength="39.8" lengthAdjust="spacingAndGlyphs">per</text><text x="327.4" y="0" font-size="25.5" font-weight="normal" text-anchor="start" textLength="44.6" lengthAdjust="spacingAndGlyphs">U.S.</text><text x="382" y="0" font-size="25.5" font-weight="normal" text-anchor="start" textLength="61" lengthAdjust="spacingAndGlyphs">dollar</text></g>
<text x="5" y="667" font-size="16.6" font-weight="bold" text-anchor="start" textLength="74.5" lengthAdjust="spacingAndGlyphs" stroke="#000" stroke-width="0.3">Source:</text><text x="88.5" y="667" font-size="16.6" font-weight="bold" text-anchor="start" textLength="103.5" lengthAdjust="spacingAndGlyphs" stroke="#000" stroke-width="0.3">Bloomberg</text>
<text x="1047.2" y="666.3" font-size="22.8" font-weight="bold" text-anchor="start" textLength="121.4" lengthAdjust="spacingAndGlyphs">Bloomberg</text>
<g>
<path d="M1181.2,649.3 H1193.6 Q1196.1,649.3 1196.1,651.8 V663.8 Q1196.1,666.3 1193.6,666.3 H1189.6 L1187.4,669.2 L1185.2,666.3 H1181.2 Q1178.7,666.3 1178.7,663.8 V651.8 Q1178.7,649.3 1181.2,649.3Z" fill="#111"/>
<rect x="1181.1" y="658.7" width="1.5" height="4" fill="#fff"/>
<rect x="1184.1" y="655.3" width="1.6" height="7.4" fill="#fff"/>
<rect x="1187.4" y="652.7" width="2" height="10" fill="#fff"/>
<rect x="1191.4" y="658.7" width="1.7" height="4" fill="#fff"/>
</g>
</svg>
</body></html>
